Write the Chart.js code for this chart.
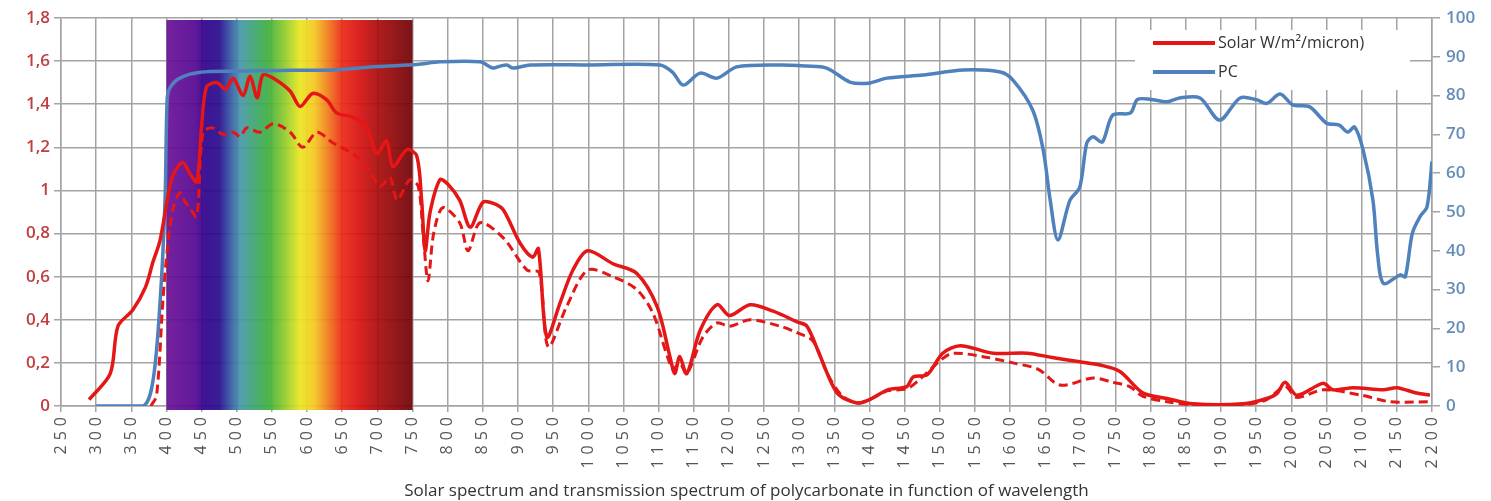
<!DOCTYPE html>
<html>
<head>
<meta charset="utf-8">
<script src="https://cdn.jsdelivr.net/npm/chart.js@4.4.1/dist/chart.umd.min.js"></script>
<style>
body{margin:0;background:#fff;}
</style>
</head>
<body>
<canvas id="spectrumChart" width="1491" height="501"></canvas>
<script>
// solar irradiance W/m2/micron (solid red)
const solarWl = [290,320,331,352,370,381,391,408,423,433,443,450,457,472,484,495,509,519,529,537,552,576,590,608,628,642,665,685,699,713,722,742,756,763,768,775,789,800,817,832,850,865,879,903,921,929,941,960,978,999,1035,1069,1098,1116,1123,1130,1140,1159,1183,1201,1230,1263,1297,1311,1330,1354,1382,1400,1425,1453,1462,1482,1504,1529,1576,1624,1660,1699,1728,1756,1789,1823,1860,1931,1965,1980,1991,2008,2045,2059,2088,2131,2150,2178,2197];
const solarVal = [0.03,0.15,0.37,0.445,0.55,0.67,0.77,1.06,1.13,1.08,1.04,1.3,1.48,1.5,1.47,1.52,1.44,1.53,1.43,1.535,1.52,1.46,1.39,1.45,1.42,1.36,1.34,1.29,1.17,1.23,1.11,1.19,1.16,0.95,0.72,0.9,1.05,1.03,0.955,0.83,0.945,0.94,0.91,0.755,0.69,0.73,0.32,0.48,0.63,0.72,0.66,0.615,0.46,0.23,0.15,0.23,0.15,0.35,0.47,0.42,0.47,0.44,0.39,0.37,0.23,0.06,0.014,0.03,0.074,0.09,0.135,0.145,0.245,0.28,0.245,0.245,0.225,0.205,0.19,0.16,0.06,0.035,0.01,0.01,0.035,0.06,0.11,0.05,0.105,0.075,0.085,0.075,0.085,0.06,0.05];

// solar irradiance behind the PC sheet (dashed red)
const solarPcWl = [378,386,395,401,409,419,426,433,443,452,466,480,495,505,514,533,552,576,594,614,637,665,685,704,718,728,746,758,765,772,780,793,817,829,846,879,913,930,943,969,999,1035,1069,1092,1120,1130,1140,1163,1183,1201,1230,1273,1297,1320,1340,1360,1382,1400,1425,1453,1470,1504,1519,1560,1604,1640,1671,1718,1746,1770,1789,1823,1860,1931,1965,1991,2008,2045,2100,2140,2197];
const solarPcVal = [0,0.05,0.49,0.72,0.91,0.99,0.95,0.92,0.88,1.27,1.29,1.26,1.27,1.25,1.29,1.27,1.31,1.27,1.2,1.27,1.22,1.17,1.11,1.02,1.06,0.955,1.05,1.02,0.8,0.58,0.8,0.92,0.85,0.72,0.85,0.78,0.63,0.62,0.275,0.46,0.63,0.6,0.54,0.43,0.17,0.2,0.15,0.32,0.385,0.37,0.4,0.37,0.34,0.3,0.15,0.05,0.014,0.03,0.07,0.08,0.12,0.22,0.245,0.23,0.2,0.17,0.097,0.13,0.11,0.09,0.045,0.02,0.005,0.005,0.03,0.09,0.04,0.075,0.05,0.02,0.02];

// polycarbonate transmission in % (right axis)
const pcWl = [300,367,381,391,398,401,405,419,448,500,560,637,700,756,789,846,864,875,884,893,917,1000,1102,1120,1135,1159,1183,1211,1273,1310,1339,1372,1398,1425,1476,1533,1586,1604,1632,1647,1657,1668,1685,1699,1709,1718,1731,1746,1771,1781,1800,1823,1841,1870,1898,1927,1951,1965,1984,2002,2026,2050,2068,2080,2090,2102,2116,2123,2131,2155,2162,2172,2183,2193,2200];
const pcVal = [0,0,6.7,27,53,79,82,84.5,86,86.3,86.5,86.6,87.5,88,88.7,88.7,87.1,87.6,87.9,87.1,87.9,87.9,87.9,86,82.7,85.8,84.5,87.4,87.9,87.6,87.1,83.5,83.2,84.5,85.3,86.6,86.1,84,76.3,66,53,42.8,53,56.4,67.8,69.4,68,75,75.5,79,79,78.4,79.4,79.4,73.7,79.4,78.9,78,80.4,77.6,77.1,72.9,72.4,70.6,71.9,66,53,38.5,31.6,33.8,33.3,44.5,48.8,51.4,63];

// axis ranges
const xRange = [250, 2200, 50];
const leftRange = [0, 1.8, 0.2];
const rightRange = [0, 100, 10];
const visibleBand = [400, 750];

const seriesLabels = ['Solar W/m\u00b2/micron)', 'Solar behind PC', 'PC'];
const chartTitle = 'Solar spectrum and transmission spectrum of polycarbonate in function of wavelength';

const RED = 'rgb(228,22,22)';
const BLUE = 'rgb(79,129,189)';
const GRID = '#a3a3a3';

function toPoints(xs, ys) {
    return xs.map((x, i) => ({x: x, y: ys[i]}));
}

// rainbow behind the visible part of the spectrum
const spectrumStops = [
    [400,'rgb(105,15,150)'],[440,'rgb(85,5,145)'],[455,'rgb(45,0,140)'],[475,'rgb(40,10,140)'],
    [490,'rgb(50,80,160)'],[505,'rgb(70,150,170)'],[525,'rgb(60,165,110)'],[545,'rgb(60,175,60)'],
    [570,'rgb(150,205,40)'],[590,'rgb(235,230,30)'],[610,'rgb(245,200,30)'],[630,'rgb(240,120,25)'],
    [650,'rgb(235,40,20)'],[675,'rgb(215,15,15)'],[700,'rgb(170,10,10)'],[750,'rgb(110,0,5)']
];

const spectrumBg = {
    id: 'spectrumBg',
    beforeDatasetsDraw(chart) {
        const {ctx, chartArea, scales} = chart;
        const x0 = scales.x.getPixelForValue(visibleBand[0]);
        const x1 = scales.x.getPixelForValue(visibleBand[1]);
        const g = ctx.createLinearGradient(x0, 0, x1, 0);
        spectrumStops.forEach(s => g.addColorStop((s[0] - visibleBand[0]) / (visibleBand[1] - visibleBand[0]), s[1]));
        ctx.save();
        ctx.globalAlpha = 0.92;
        ctx.fillStyle = g;
        ctx.fillRect(x0, chartArea.top + 2, x1 - x0, chartArea.bottom - chartArea.top + 2);
        ctx.restore();
    }
};

// legend sits inside the plot, top right, on a white box
const boxLegend = {
    id: 'boxLegend',
    afterDatasetsDraw(chart) {
        const {ctx, chartArea} = chart;
        const left = chartArea.right - 297, top = chartArea.top + 12;
        ctx.save();
        ctx.fillStyle = '#fff';
        ctx.fillRect(left, top, 275, 60);
        ctx.font = '16px "Open Sans"';
        ctx.textBaseline = 'middle';
        [0, 2].forEach((idx, i) => {
            const ds = chart.data.datasets[idx];
            const y = top + 13 + i * 29;
            ctx.strokeStyle = ds.borderColor;
            ctx.lineWidth = 4;
            ctx.beginPath();
            ctx.moveTo(left + 18, y);
            ctx.lineTo(left + 80, y);
            ctx.stroke();
            ctx.fillStyle = '#333';
            ctx.fillText(ds.label, left + 83, y);
        });
        ctx.restore();
    }
};

// wide spaced digits on the wavelength axis
const spacedXLabels = {
    id: 'spacedXLabels',
    afterLayout(chart) {
        const sc = chart.scales.x;
        if (sc._spaced) return;
        const orig = sc.drawLabels;
        sc.drawLabels = function(area) {
            const prev = this.ctx.letterSpacing;
            this.ctx.letterSpacing = '5px';
            orig.call(this, area);
            this.ctx.letterSpacing = prev;
        };
        sc._spaced = true;
    }
};

const ctx = document.getElementById('spectrumChart').getContext('2d');
new Chart(ctx, {
    type: 'line',
    data: {
        datasets: [
            {
                label: seriesLabels[0],
                data: toPoints(solarWl, solarVal),
                borderColor: RED,
                borderWidth: 3.5,
                pointRadius: 0,
                tension: 0.3,
                yAxisID: 'y'
            },
            {
                label: seriesLabels[1],
                data: toPoints(solarPcWl, solarPcVal),
                borderColor: RED,
                borderWidth: 3,
                borderDash: [9, 5],
                pointRadius: 0,
                tension: 0.3,
                yAxisID: 'y'
            },
            {
                label: seriesLabels[2],
                data: toPoints(pcWl, pcVal),
                borderColor: BLUE,
                borderWidth: 3.5,
                pointRadius: 0,
                tension: 0.3,
                yAxisID: 'y1'
            }
        ]
    },
    options: {
        responsive: false,
        animation: false,
        layout: {padding: {top: 18, right: 0, bottom: 0, left: 0}},
        plugins: {
            legend: {display: false},
            tooltip: {enabled: false}
        },
        scales: {
            x: {
                type: 'linear',
                min: xRange[0],
                max: xRange[1],
                afterFit: s => { s.height = 95; },
                grid: {color: GRID, lineWidth: 1.5, tickLength: 6},
                border: {color: GRID, width: 1.5},
                ticks: {
                    stepSize: xRange[2],
                    autoSkip: false,
                    minRotation: 90,
                    maxRotation: 90,
                    padding: 0,
                    color: '#555',
                    font: {family: '"Open Sans"', size: 16},
                    callback: v => String(v)
                },
                title: {
                    display: true,
                    text: chartTitle,
                    color: '#333',
                    padding: {top: 0, bottom: 0},
                    font: {family: '"Open Sans"', size: 17}
                }
            },
            y: {
                position: 'left',
                min: leftRange[0],
                max: leftRange[1],
                afterFit: s => { s.width = 61; },
                grid: {color: GRID, lineWidth: 1.5, tickLength: 7},
                border: {color: GRID, width: 1.5},
                ticks: {
                    stepSize: leftRange[2],
                    padding: 4,
                    color: 'rgb(192,62,62)',
                    font: {family: '"Open Sans"', size: 17, weight: '600'},
                    callback: v => String(Math.round(v * 10) / 10).replace('.', ',')
                }
            },
            y1: {
                position: 'right',
                min: rightRange[0],
                max: rightRange[1],
                afterFit: s => { s.width = 59; },
                grid: {drawOnChartArea: false, color: GRID, lineWidth: 1.5, tickLength: 8},
                border: {color: GRID, width: 1.5},
                ticks: {
                    stepSize: rightRange[2],
                    padding: 6,
                    color: 'rgb(100,140,185)',
                    font: {family: '"Open Sans"', size: 17, weight: '600'}
                }
            }
        }
    },
    plugins: [spectrumBg, boxLegend, spacedXLabels]
});
</script>
</body>
</html>
